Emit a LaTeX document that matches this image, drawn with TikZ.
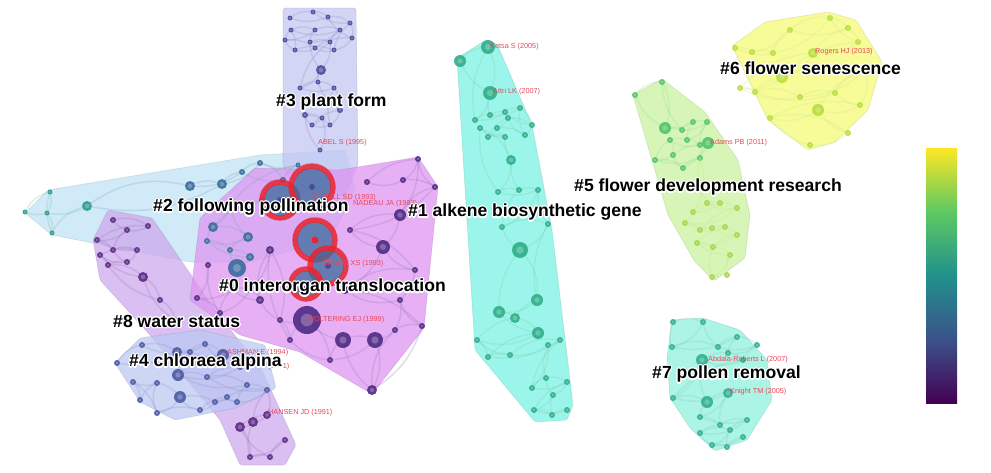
\documentclass[tikz,border=0pt]{standalone}
\usepackage{fontspec}
\setmainfont{Liberation Sans}
\usepackage[copies]{contour}
\usepackage{tikz}
\usetikzlibrary{positioning}
% hull fills
\definecolor{hullzero}{HTML}{DE94F2}
\definecolor{hullone}{HTML}{7AF2E2}
\definecolor{hulltwo}{HTML}{BFE2F5}
\definecolor{hullthree}{HTML}{C3C6F2}
\definecolor{hullfour}{HTML}{BCC8F2}
\definecolor{hullfive}{HTML}{C8F29C}
\definecolor{hullsix}{HTML}{F4FA74}
\definecolor{hullseven}{HTML}{8FF0DD}
\definecolor{hulleight}{HTML}{CDA8EE}
% node colours
\definecolor{dotzero}{HTML}{4E2A84}
\definecolor{dotone}{HTML}{2FAE88}
\definecolor{dottwo}{HTML}{3A6C9C}
\definecolor{dotteal}{HTML}{2A9C8C}
\definecolor{dotthree}{HTML}{4A4C9C}
\definecolor{dotfour}{HTML}{4A5AA4}
\definecolor{dotfive}{HTML}{52C468}
\definecolor{dotlime}{HTML}{A6D84A}
\definecolor{dotsix}{HTML}{B8DE3A}
\definecolor{dotseven}{HTML}{2FB08E}
\definecolor{doteight}{HTML}{5B2A86}
\definecolor{ringred}{HTML}{E8242C}
\definecolor{authred}{HTML}{E8465A}
% viridis bar
\definecolor{virA}{HTML}{440154}
\definecolor{virB}{HTML}{3B528B}
\definecolor{virC}{HTML}{21918C}
\definecolor{virD}{HTML}{5EC962}
\definecolor{virE}{HTML}{FDE725}
\pgfdeclareverticalshading{viridis}{100bp}{color(0bp)=(virA); color(25bp)=(virA);
  color(37.5bp)=(virB); color(50bp)=(virC); color(62.5bp)=(virD); color(75bp)=(virE); color(100bp)=(virE)}
\contourlength{1pt}
\contournumber{16}

% links along a list x/y/r, then the dots on top
\newcommand{\drawcluster}[3]{%
  \foreach \x/\y/\r [count=\i, remember=\px as \ppx (initially 0), remember=\py as \ppy (initially 0),
      remember=\x as \px (initially 0), remember=\y as \py (initially 0)] in {#3}{
    \ifnum\i>1 \draw[link, #2] (\px,\py) to[bend left=25] (\x,\y); \fi
    \ifnum\i>2 \draw[link, #2] (\ppx,\ppy) to[bend right=20] (\x,\y); \fi
  }
  \foreach \x/\y/\r in {#3}{
    \fill[#1, fill opacity=.9] (\x,\y) circle (\r);
    \fill[white, fill opacity=.25] (\x,\y) circle (\r*0.45);
  }
}

\begin{document}
\begin{tikzpicture}[
  x=0.03cm, y=-0.03cm,
  hull/.style={fill opacity=.74, draw opacity=.25, line width=.6pt, rounded corners=2pt},
  link/.style={line width=1.3pt, draw opacity=.28},
  ring/.style={draw=ringred, draw opacity=.85, line width=4.5pt},
  clabel/.style={font=\fontsize{15}{18}\selectfont\bfseries, inner sep=0pt, anchor=west},
  alabel/.style={font=\fontsize{6.2}{7}\selectfont, text=authred, inner sep=0pt, anchor=west},
]
  \useasboundingbox (0,0) rectangle (991,472);

  % Cluster hulls
  \draw[hull, fill=hulltwo, draw=hulltwo!70!black] (25,213) -- (48,190) -- (260,155) -- (345,150) -- (355,190)
    -- (330,240) -- (250,262) -- (190,262) -- (52,235) -- cycle;
  \draw[hull, fill=hullthree, draw=hullthree!70!black] (283,8) -- (356,8) -- (358,165) -- (345,195) -- (295,195)
    -- (283,165) -- cycle;
  \draw[hull, fill=hulleight, draw=hulleight!70!black] (93,240) -- (108,210) -- (152,218) -- (215,310) -- (262,370)
    -- (296,445) -- (285,465) -- (240,465) -- (220,420) -- (150,335) -- (100,280) -- cycle;
  \draw[hull, fill=hullzero, draw=hullzero!70!black] (200,218) -- (255,168) -- (340,170) -- (418,157) -- (438,187)
    -- (424,328) -- (372,394) -- (300,352) -- (240,335) -- (190,300) -- cycle;
  \draw[hull, fill=hullfour, draw=hullfour!70!black] (115,363) -- (140,338) -- (200,330) -- (265,345) -- (276,388)
    -- (235,408) -- (175,420) -- (140,402) -- cycle;
  \draw[hull, fill=hullone, draw=hullone!70!black] (457,58) -- (486,40) -- (497,44) -- (532,125) -- (552,230)
    -- (573,405) -- (567,420) -- (535,422) -- (475,350) -- cycle;
  \draw[hull, fill=hullfive, draw=hullfive!70!black] (633,95) -- (662,79) -- (705,112) -- (738,160) -- (750,215)
    -- (745,258) -- (714,281) -- (695,262) -- (668,215) -- cycle;
  \draw[hull, fill=hullsix, draw=hullsix!70!black] (732,46) -- (765,22) -- (828,12) -- (856,20) -- (882,62)
    -- (868,110) -- (835,142) -- (808,150) -- (768,120) -- cycle;
  \draw[hull, fill=hullseven, draw=hullseven!70!black] (667,357) -- (672,320) -- (703,318) -- (740,330) -- (767,360)
    -- (772,400) -- (747,440) -- (715,451) -- (690,428) -- (670,398) -- cycle;

  % Clusters: links and nodes
  \drawcluster{dotthree}{dotthree!60}{290/18/2.5, 313/12/2.5, 328/17/2.5, 350/23/2.5, 352/38/2.5, 334/50/2.5,
    315/48/2.5, 295/50/2.5, 285/40/2.5, 291/30/2.5, 315/30/2.5, 340/30/2.5, 310/42/2.5, 330/42/2.5, 321/70/5,
    300/88/2.5, 318/82/2.5, 334/88/2.5, 340/110/3, 330/125/2.5, 312/125/2.5, 305/115/3, 322/118/2.5, 320/150/2.5}
  \drawcluster{dotteal}{dotteal!60}{25/212/2.5, 50/192/2.5, 47/213/2.5, 52/233/2.5, 87/206/5}
  \drawcluster{dottwo}{dottwo!60}{87/206/0.1, 190/186/5, 222/184/5, 242/172/3, 260/163/3, 283/180/3, 298/165/2.5,
    262/200/3, 230/205/3, 213/227/5, 248/237/5, 207/241/3, 230/250/3, 250/257/4, 237/268/9}
  \drawcluster{doteight}{doteight!60}{113/220/3, 148/226/3, 127/230/3, 97/240/3, 113/250/3, 137/250/3, 127/262/3,
    100/255/3, 108/265/3, 143/277/5, 160/300/3, 175/320/3}
  \drawcluster{dotzero}{dotzero!60}{208/265/3, 197/298/3, 220/313/3, 233/290/3, 250/290/3, 260/300/4, 270/250/4,
    280/320/3, 290/340/3, 307/320/14, 330/360/3, 343/340/8, 375/340/8, 372/390/5, 395/330/3, 422/326/3, 400/300/3,
    345/290/4, 415/270/3, 383/247/7, 350/230/3, 400/215/6, 435/187/3, 418/159/3, 403/180/3, 367/182/3}
  \drawcluster{dotfour}{dotfour!60}{117/363/3, 142/345/3, 177/352/5, 190/352/3, 205/344/3, 223/355/6, 240/367/3,
    178/375/6, 207/377/3, 247/385/3, 267/390/3, 237/402/3, 227/397/3, 215/402/3, 200/410/3, 180/397/6, 157/413/3,
    157/383/3, 133/382/3, 140/400/3}
  \drawcluster{doteight}{doteight!60}{267/390/0.1, 267/415/4, 253/422/5, 240/427/5, 250/457/3, 270/457/3, 285/440/3}
  \drawcluster{dotone}{dotone!60}{460/61/6, 488/47/7, 490/93/7, 475/120/3, 490/115/3, 505/112/3, 520/108/3,
    532/125/3, 525/135/3, 508/118/3, 497/128/3, 488/137/3, 505/137/3, 480/128/3, 511/160/5, 498/192/3, 519/190/3,
    538/190/3, 502/227/3, 548/224/3, 520/250/8, 537/300/6, 499/312/6, 515/318/5, 538/333/6, 477/340/3, 488/357/3,
    510/355/3, 560/340/3, 548/345/3, 532/388/3, 546/378/3, 567/382/3, 553/395/3, 534/410/3, 552/415/3, 567/410/3}
  \drawcluster{dotfive}{dotfive!60}{635/95/3, 662/82/3, 665/128/6, 682/130/3, 693/122/3, 707/122/3, 687/140/3,
    700/145/3, 670/140/3, 673/155/3, 655/160/3, 683/168/3, 700/158/3, 708/143/6}
  \drawcluster{dotlime}{dotlime!60}{700/158/0.1, 693/212/3, 707/203/3, 720/203/3, 737/208/3, 685/223/3, 700/230/3,
    712/228/3, 725/227/3, 737/235/3, 697/243/3, 713/247/3, 730/255/3, 712/277/3, 727/275/3}
  \drawcluster{dotsix}{dotsix!60}{735/48/3, 752/52/3, 773/53/3, 790/30/3, 830/18/3, 848/28/3, 858/42/3, 813/53/5,
    782/77/6, 740/88/3, 755/92/3, 800/97/3, 835/93/3, 865/70/3, 860/105/3, 818/110/6, 770/118/3, 848/133/3,
    810/145/3}
  \drawcluster{dotseven}{dotseven!60}{673/322/3, 703/322/3, 672/347/3, 718/347/3, 737/337/3, 757/345/3, 728/353/3,
    743/360/3, 702/360/6, 673/398/3, 707/402/6, 728/393/5, 700/417/3, 720/425/3, 747/420/3, 700/433/3, 730/430/3,
    712/445/3, 727/447/3, 743/437/3}

  % Bursts (red rings)
  \foreach \x/\y/\r in {280/200/18, 312/187/21, 315/240/20, 328/266/18, 306/284/15}{
    \fill[dottwo, fill opacity=.75] (\x,\y) circle (\r-2);
    \draw[ring] (\x,\y) circle (\r);
    \fill[dotthree] (\x,\y) circle (3);
  }
  \fill[ringred] (315,240) circle (3.5);

  % Author labels
  \node[alabel] (abel) at (318,143) {ABEL S (1995)};
  \node[alabel] (oneill) at (313,198) {O'NEILL SD (1993)};
  \node[alabel] (nadeau) at (353,204) {NADEAU JA (1993)};
  \node[alabel] (zhang) at (323,264) {ZHANG XS (1993)};
  \node[alabel] (woltering) at (307,320) {WOLTERING EJ (1999)};
  \node[alabel] (ashman) at (227,353) {ASHMAN E (1994)};
  \node[alabel] (yr) at (268,367) {(1991)};
  \node[alabel] (hansen) at (268,413) {HANSEN JD (1991)};
  \node[alabel] (ketsa) at (490,47) {Ketsa S (2005)};
  \node[alabel] (attri) at (493,92) {Attri LK (2007)};
  \node[alabel] (rogers) at (815,52) {Rogers HJ (2013)};
  \node[alabel] (adams) at (710,143) {Adams PB (2011)};
  \node[alabel] (abdala) at (708,360) {Abdala-Roberts L (2007)};
  \node[alabel] (knight) at (730,392) {Knight TM (2005)};

  % Cluster labels
  \node[clabel] (c3) at (276,103) {\contour{white}{\#3 plant form}};
  \node[clabel] (c2) at (153,208) {\contour{white}{\#2 following pollination}};
  \node[clabel] (c1) at (408,213) {\contour{white}{\#1 alkene biosynthetic gene}};
  \node[clabel] (c0) at (219,288) {\contour{white}{\#0 interorgan translocation}};
  \node[clabel] (c8) at (113,322) {\contour{white}{\#8 water status}};
  \node[clabel] (c4) at (129,363) {\contour{white}{\#4 chloraea alpina}};
  \node[clabel] (c5) at (574,188) {\contour{white}{\#5 flower development research}};
  \node[clabel] (c6) at (720,69) {\contour{white}{\#6 flower senescence}};
  \node[clabel] (c7) at (652,375) {\contour{white}{\#7 pollen removal}};

  % Colour bar
  \shade[shading=viridis] (926,148) rectangle (957,403);
\end{tikzpicture}
\end{document}
